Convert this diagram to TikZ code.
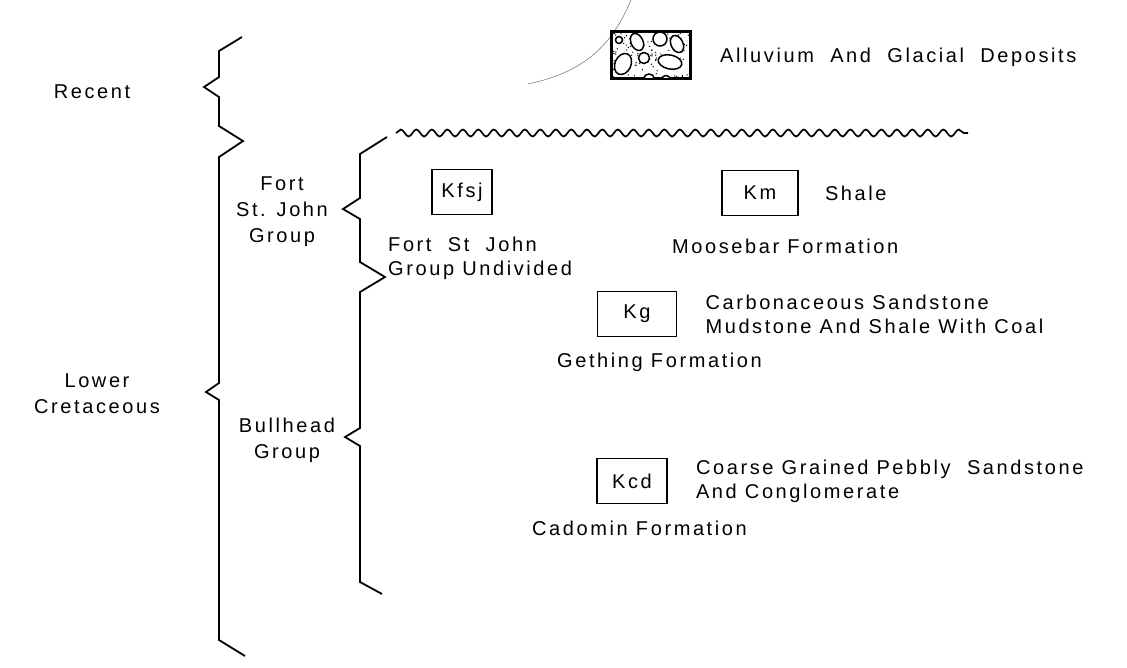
\documentclass[tikz,border=0pt]{standalone}
\usepackage{fontspec}
\setmainfont{Liberation Sans}[LetterSpace=13]
\usetikzlibrary{positioning,decorations.pathmorphing}

\begin{document}
\begin{tikzpicture}[x=1pt,y=-1pt,
  brace/.style={line width=1.8pt, line join=miter},
  unitbox/.style={draw, line width=1.7pt, minimum height=45pt, inner sep=0pt, font=\fontsize{20}{23}\selectfont},
  lbl/.style={inner sep=0pt, anchor=west, align=left, font=\fontsize{20}{24}\selectfont},
  age/.style={inner sep=0pt, align=center, font=\fontsize{20}{26}\selectfont}
]
\useasboundingbox (0,0) rectangle (1127,667);

% age and group labels
\node[age] (recent) at (92,92) {Recent};
\node[age] (lowcret) at (97,394) {Lower\\Cretaceous};
\node[age] (fsjgrp) at (282,212) {Fort\\St. John\\Group};
\node[age] (bullgrp) at (287,440) {Bullhead\\Group};

% outer brace
\draw[brace] (242,37) -- (219,51) -- (219,77) -- (204,87) -- (219,97) -- (219,126)
  -- (243,141) -- (219,157) -- (219,383) -- (206,392) -- (219,400) -- (219,640) -- (245,656);
% inner brace
\draw[brace] (387,137) -- (360,154) -- (360,198) -- (343,209) -- (360,219) -- (360,262)
  -- (385,277) -- (360,292) -- (360,428) -- (345,437) -- (360,446) -- (360,582) -- (382,594);

% unconformity
\coordinate (uncA) at (396,133);
\coordinate (uncB) at (968,133);
\draw[line width=1.7pt, decorate, decoration={snake, segment length=15.5pt, amplitude=3.5pt}] (uncA) -- (uncB);

% faint arc
\draw[gray, line width=0.6pt] (631,0) .. controls (612,45) and (585,72) .. (528,84);

% alluvium symbol
\node[draw, line width=2.4pt, minimum width=78pt, minimum height=46pt, inner sep=0pt, fill=white] (alv) at (651,55) {};
\begin{scope}
  \clip (612,32) rectangle (690,78);
  \pgfmathsetseed{11}
  \foreach \i in {1,...,120} {
    \fill ({613+76*rnd},{33+44*rnd}) circle (0.7);
  }
  \foreach \cx/\cy/\rx/\ry/\rot in {619/40/3.5/3.5/0, 637/42/6/9/25, 660/39/7/7/0, 677/44/6/9/25,
      623/64/8/11/-25, 644/58/5.5/5.5/0, 670/62/12/7/-12, 649/78/5/4/0, 666/79/4/3.5/0} {
    \draw[line width=1.5pt, fill=white, rotate around={\rot:(\cx,\cy)}] (\cx,\cy) ellipse ({\rx} and {\ry});
  }
\end{scope}
\draw[line width=2.4pt] (alv.north west) rectangle (alv.south east);
\node[lbl] (alvtxt) at (720,57) {Alluvium~ And~ Glacial~ Deposits};

% map units
\node[unitbox, minimum width=60pt] (kfsj) at (462,192) {Kfsj};
\node[lbl, anchor=north west] (kfsjtxt) at (388,237) {Fort~ St~ John\\ Group Undivided};

\node[unitbox, minimum width=76pt] (km) at (760,193) {Km};
\node[lbl, right=26pt of km] (kmtxt) {Shale};
\node[lbl] (moose) at (672,246) {Moosebar Formation};

\node[unitbox, minimum width=79pt] (kg) at (637,314) {Kg};
\node[lbl, right=28pt of kg] (kgtxt) {Carbonaceous Sandstone\\Mudstone And Shale With Coal};
\node[lbl] (gething) at (557,362) {Gething Formation};

\node[unitbox, minimum width=70pt] (kcd) at (632,481) {Kcd};
\node[lbl, right=28pt of kcd] (kcdtxt) {Coarse Grained Pebbly~ Sandstone\\And Conglomerate};
\node[lbl] (cadomin) at (532,528) {Cadomin Formation};
\end{tikzpicture}
\end{document}
